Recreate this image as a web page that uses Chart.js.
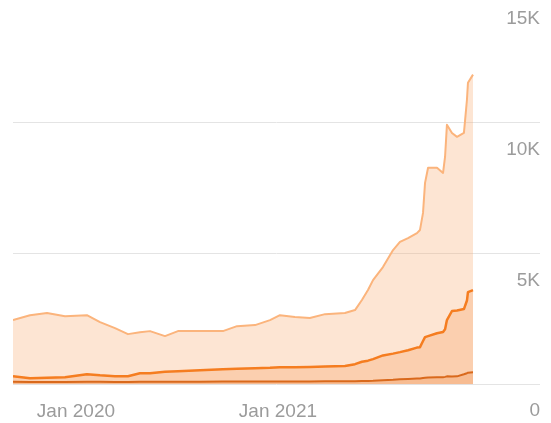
<!DOCTYPE html>
<html>
<head>
<meta charset="utf-8">
<script src="https://cdn.jsdelivr.net/npm/chart.js@4/dist/chart.umd.min.js"></script>
<style>
  html, body { margin: 0; padding: 0; background: #fff; overflow: hidden; }
  #wrap { position: absolute; left: 0; top: -8px; width: 551px; height: 450px; }
</style>
</head>
<body>
<div id="wrap"><canvas id="chart"></canvas></div>
<script>
// months since Jan 2020 (0 = Jan 2020)
const months = [
    -3.74, -2.73, -1.72, -0.65, 0.65, 1.43, 2.32, 3.09, 3.80, 4.40,
    5.29, 6.06, 7.37, 8.73, 9.57, 10.64, 11.53, 12.12, 13.01, 13.90,
    14.80, 15.98, 16.58, 16.99, 17.35, 17.65, 18.24, 18.84, 19.25, 19.73,
    20.26, 20.44, 20.62, 20.74, 20.92, 21.45, 21.81, 21.93, 22.04, 22.34,
    22.64, 23.05, 23.23, 23.29, 23.59
];

const topValues = [
    2450, 2640, 2720, 2600, 2640, 2375, 2145, 1915, 1990, 2030,
    1840, 2030, 2030, 2030, 2220, 2260, 2450, 2640, 2570, 2530,
    2680, 2720, 2835, 3220, 3600, 3980, 4480, 5130, 5440, 5590,
    5780, 5900, 6550, 7700, 8280, 8280, 8080, 8700, 9920, 9610,
    9460, 9610, 10880, 11530, 11840
];

const midValues = [
    306, 230, 250, 268, 383, 340, 306, 306, 420, 420,
    480, 500, 535, 570, 590, 613, 630, 650, 650, 660,
    680, 700, 766, 860, 900, 960, 1100, 1170, 1226, 1300,
    1400, 1417, 1650, 1800, 1839, 1950, 2000, 2100, 2452, 2800,
    2820, 2873, 3200, 3524, 3600
];

const lowValues = [
    90, 80, 80, 85, 90, 90, 85, 85, 90, 90,
    95, 95, 95, 100, 100, 100, 105, 105, 105, 105,
    110, 110, 115, 120, 125, 130, 150, 170, 190, 200,
    215, 220, 240, 250, 260, 270, 270, 280, 300, 290,
    300, 380, 420, 440, 460
];

const tickMonths = [0, 12];
const tickLabels = ["Jan 2020", "Jan 2021"];

function toPoints(values) {
    return values.map((v, i) => ({ x: months[i], y: v }));
}

function zeroPadding(scale) {
    scale.paddingTop = 0;
    scale.paddingBottom = 0;
    scale.paddingLeft = 0;
    scale.paddingRight = 0;
}

const tickFont = { family: "'Liberation Sans', Arial, sans-serif", size: 19 };

new Chart(document.getElementById("chart"), {
    type: "line",
    data: {
        datasets: [
            {
                data: toPoints(lowValues),
                borderColor: "#d9691c",
                backgroundColor: "rgba(230, 120, 40, 0.22)",
                borderWidth: 2,
                fill: "origin"
            },
            {
                data: toPoints(midValues),
                borderColor: "#f57d20",
                backgroundColor: "rgba(245, 130, 50, 0.22)",
                borderWidth: 2.5,
                fill: "origin"
            },
            {
                data: toPoints(topValues),
                borderColor: "#fbb47c",
                backgroundColor: "rgba(250, 170, 110, 0.3)",
                borderWidth: 2,
                fill: "origin"
            }
        ]
    },
    options: {
        animation: false,
        responsive: true,
        maintainAspectRatio: false,
        layout: { padding: { left: 13, right: 11, top: 0, bottom: 3 } },
        elements: {
            point: { radius: 0 },
            line: { tension: 0, borderJoinStyle: "round" }
        },
        plugins: {
            legend: { display: false },
            tooltip: { enabled: false }
        },
        scales: {
            x: {
                type: "linear",
                min: -3.74,
                max: 27.57,
                grid: { display: false, drawTicks: false },
                border: { display: false },
                afterBuildTicks: scale => {
                    scale.ticks = tickMonths.map(v => ({ value: v }));
                },
                afterFit: zeroPadding,
                ticks: {
                    autoSkip: false,
                    maxRotation: 0,
                    padding: 16,
                    color: "#9b9b9b",
                    font: tickFont,
                    callback: value => tickLabels[tickMonths.indexOf(value)] ?? ""
                }
            },
            y: {
                position: "right",
                min: 0,
                max: 15000,
                grid: { color: "#e4e4e4", lineWidth: 1, drawTicks: false },
                border: { display: false },
                afterFit: zeroPadding,
                ticks: {
                    stepSize: 5000,
                    mirror: true,
                    padding: 0,
                    labelOffset: 27,
                    color: "#9b9b9b",
                    font: tickFont,
                    callback: value => value === 0 ? "0" : (value / 1000) + "K"
                }
            }
        }
    }
});
</script>
</body>
</html>
